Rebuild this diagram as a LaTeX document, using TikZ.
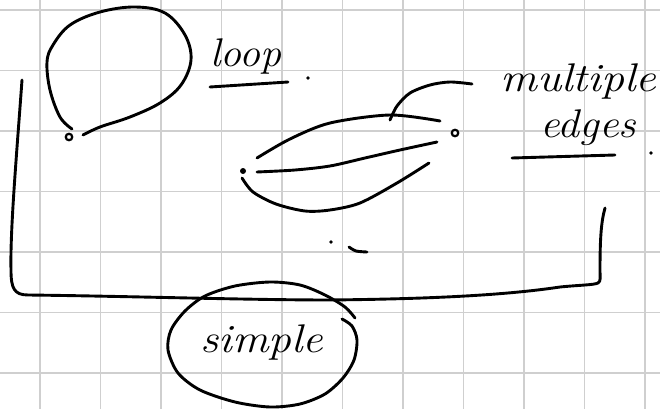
\documentclass[tikz,border=0pt]{standalone}
\usepackage{graphicx}
\begin{document}
\begin{tikzpicture}[x=1pt,y=-1pt,
  grid/.style={draw=black!19,line width=1.4pt},
  ink/.style={draw=black,line width=2.9pt,line cap=round,line join=round},
  vtx/.style={circle,draw=black,line width=2.2pt,fill=white,inner sep=0pt,minimum size=6.5pt},
  dotv/.style={circle,fill=black,inner sep=0pt,minimum size=6pt},
  period/.style={circle,fill=black,inner sep=0pt,minimum size=3.8pt},
  hand/.style={font=\itshape\fontsize{40}{40}\selectfont,inner sep=0pt,anchor=base west}]

% paper and its squared ruling
\fill[white] (0,0) rectangle (660,409);
\useasboundingbox (0,0) rectangle (660,409);
\foreach \k in {0,...,10} \draw[grid] ({40+60.5*\k},0) -- ({40+60.5*\k},409);
\foreach \k in {0,...,6} \draw[grid] (0,{10+60.5*\k}) -- (660,{10+60.5*\k});

% vertices
\node[vtx]  (lv) at (69,137) {};
\node[dotv] (mv) at (243,171) {};
\node[vtx]  (rv) at (455,133) {};

% a loop on the left vertex
\draw[ink] plot[smooth,tension=0.6] coordinates {(72,129) (60,117) (50,90) (47,62) (53,45) (70,25) (100,12) (135,7) (165,13) (185,35) (191,60) (181,85) (160,103) (130,117) (100,127) (83,135)};

% three parallel edges between mv and rv
\draw[ink] plot[smooth] coordinates {(257,158) (290,139) (330,123) (390,115) (440,121)};
\draw[ink] plot[smooth] coordinates {(257,172) (295,170) (330,166) (365,158) (400,150) (437,142)};
\draw[ink] plot[smooth] coordinates {(242,178) (253,192) (276,204) (305,211) (330,210) (360,203) (397,183) (429,163)};

% pointer from the edges to their label
\draw[ink] plot[smooth] coordinates {(390,120) (397,106) (410,93) (430,85) (450,82) (472,84)};

% labels
\node[hand] (tloop) at (210,67) {\scalebox{1.05}[1]{loop}};
\draw[ink] (210,87) -- (288,82);
\node[period] (ploop) at (308,78) {};

\node[hand] (tmult) at (500,92) {\scalebox{1.15}[1]{multiple}};
\node[hand] (tedge) at (540,137) {\scalebox{1.09}[1]{edges}};
\draw[ink] (512,158) -- (615,155);
\node[period] (pedge) at (651,153) {};

% trailing marks under the edges
\node[period] (pdots) at (331,242) {};
\draw[ink] plot[smooth] coordinates {(349,247) (356,251) (367,252)};

% bracket around the non-simple cases
\draw[ink] (22,80) .. controls (17,150) and (10,230) .. (11,270)
  .. controls (11,288) and (14,295) .. (28,295)
  .. controls (120,296) and (250,300) .. (330,300)
  .. controls (420,299) and (500,296) .. (560,287)
  .. controls (580,285) and (594,285) .. (598,283)
  .. controls (601,281) and (600,278) .. (600,270)
  .. controls (600,240) and (601,222) .. (605,208);

% the simple case, circled
\node[hand] (tsimp) at (200,352) {\scalebox{1.14}[1]{simple}};
\draw[ink] plot[smooth] coordinates {(342,319) (352,326) (357,340) (354,360) (343,378) (325,394) (300,404) (270,407) (235,402) (200,390) (178,373) (168,350) (171,330) (185,311) (205,296) (235,286) (270,282) (300,285) (325,295) (345,307) (355,318)};
\end{tikzpicture}
\end{document}
